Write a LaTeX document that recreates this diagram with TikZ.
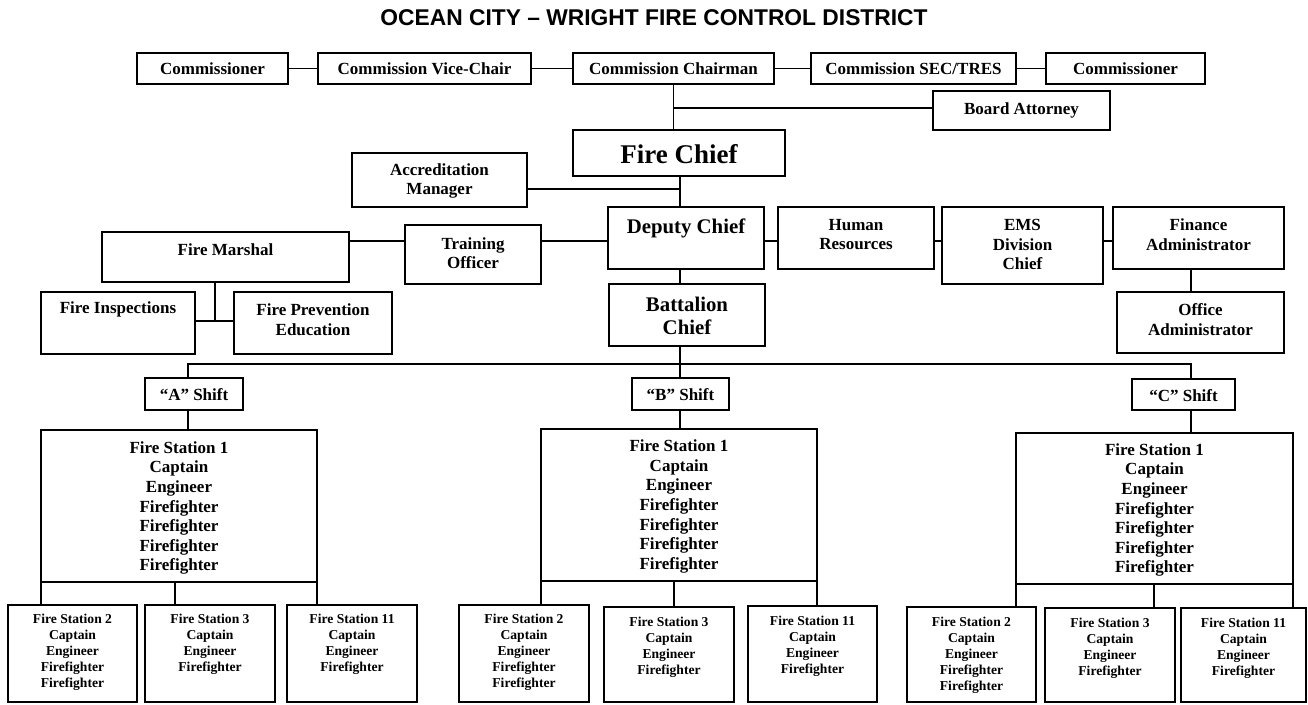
\documentclass[tikz,border=0pt]{standalone}
\usepackage{fontspec}
\setmainfont{Liberation Serif}
\newfontfamily\ttlfont{Liberation Sans}
\usetikzlibrary{fit}
\tikzset{
  bx/.style={draw, line width=1.1pt, inner sep=0pt},
  lk/.style={line width=1.1pt},
  tx/.style={inner sep=0pt, align=center, font=\bfseries\fontsize{12.75}{14.7}\selectfont},
  txbig/.style={tx, font=\bfseries\fontsize{20.25}{24}\selectfont},
  txmid/.style={tx, font=\bfseries\fontsize{15.6}{17.3}\selectfont},
  txsm/.style={tx, font=\bfseries\fontsize{10.2}{12}\selectfont},
}
\newcommand\obox[8][tx]{%
  \node[bx, fit={(#3,#4)(#5,#6)}] (#2) {};
  \node[#1] (#2-t) at ({(#3+#5)/2},#7) {#8};}
\begin{document}
\begin{tikzpicture}[x=0.75pt, y=-0.75pt]
\useasboundingbox (0,0) rectangle (1308,704);
\node[font=\ttlfont\bfseries\fontsize{17.1}{20}\selectfont, inner sep=0pt] (title) at (654,17.5) {OCEAN CITY – WRIGHT FIRE CONTROL DISTRICT};

\obox{comm1}{137}{53}{288}{84}{68.5}{Commissioner}
\obox{vice}{318}{53}{531}{84}{68.5}{Commission Vice-Chair}
\obox{chair}{573}{53}{774}{84}{68.5}{Commission Chairman}
\obox{sec}{811}{53}{1016}{84}{68.5}{Commission SEC/TRES}
\obox{comm2}{1046}{53}{1205}{84}{68.5}{Commissioner}
\obox{atty}{933}{91}{1110}{130}{110}{Board Attorney}
\obox[txbig]{chief}{573}{130}{785}{176}{154}{Fire Chief}
\obox{accr}{352}{153}{527}{207}{181}{Accreditation\\Manager}
\obox[txmid]{dep}{608}{207}{764}{269}{228}{Deputy Chief}
\obox{train}{405}{225}{541}{284}{253}{Training\\Officer}
\obox{marsh}{102}{232}{349}{282}{250}{Fire Marshal}
\obox{insp}{41}{292}{195}{354}{309}{Fire Inspections}
\obox{prev}{234}{292}{392}{354}{319.5}{Fire Prevention\\Education}
\obox{hr}{778}{207}{934}{269}{234.5}{Human\\Resources}
\obox{ems}{942}{207}{1103}{284}{244.5}{EMS\\Division\\Chief}
\obox{fin}{1113}{207}{1284}{269}{234.5}{Finance\\Administrator}
\obox{office}{1117}{292}{1284}{353}{319.5}{Office\\Administrator}
\obox[txmid]{batt}{609}{284}{765}{346}{316}{Battalion\\Chief}
\obox{ashift}{145}{378}{243}{410}{395}{“A” Shift}
\obox{bshift}{632}{378}{729}{410}{395}{“B” Shift}
\obox{cshift}{1132}{379}{1235}{410}{396}{“C” Shift}

\obox{fsa}{41}{430}{317}{582}{508}{Fire Station 1\\Captain\\Engineer\\Firefighter\\Firefighter\\Firefighter\\Firefighter}
\obox{fsb}{541}{429}{817}{581}{506.5}{Fire Station 1\\Captain\\Engineer\\Firefighter\\Firefighter\\Firefighter\\Firefighter}
\obox{fsc}{1016}{433}{1293}{584}{510}{Fire Station 1\\Captain\\Engineer\\Firefighter\\Firefighter\\Firefighter\\Firefighter}

\obox[txsm]{a2}{8}{605}{137}{702}{652.5}{Fire Station 2\\Captain\\Engineer\\Firefighter\\Firefighter}
\obox[txsm]{a3}{145}{605}{275}{702}{644.5}{Fire Station 3\\Captain\\Engineer\\Firefighter}
\obox[txsm]{a11}{287}{605}{417}{702}{644.5}{Fire Station 11\\Captain\\Engineer\\Firefighter}
\obox[txsm]{b2}{459}{605}{589}{702}{652.5}{Fire Station 2\\Captain\\Engineer\\Firefighter\\Firefighter}
\obox[txsm]{b3}{604}{607}{734}{702}{647.5}{Fire Station 3\\Captain\\Engineer\\Firefighter}
\obox[txsm]{b11}{748}{606}{877}{702}{646}{Fire Station 11\\Captain\\Engineer\\Firefighter}
\obox[txsm]{c2}{907}{607}{1036}{702}{655}{Fire Station 2\\Captain\\Engineer\\Firefighter\\Firefighter}
\obox[txsm]{c3}{1045}{608}{1175}{702}{648.5}{Fire Station 3\\Captain\\Engineer\\Firefighter}
\obox[txsm]{c11}{1181}{608}{1306}{702}{648.5}{Fire Station 11\\Captain\\Engineer\\Firefighter}

% connectors
\draw[lk] (comm1) -- (vice);
\draw[lk] (vice) -- (chair);
\draw[lk] (chair) -- (sec);
\draw[lk] (sec) -- (comm2);
\coordinate (attyy) at (0,108);
\draw[lk] (chair.south) -- (chair.south |- chief.north);
\draw[lk] (chair.south |- attyy) -- (atty.west |- attyy);
\coordinate (cx) at (680,0);
\draw[lk] (chief.south -| cx) -- (dep.north -| cx);
\coordinate (accy) at (0,189);
\draw[lk] (accr.east |- accy) -- (cx |- accy);
\coordinate (ly) at (0,241);
\draw[lk] (dep.west |- ly) -- (train.east |- ly);
\draw[lk] (train.west |- ly) -- (marsh.east |- ly);
\draw[lk] (dep.east |- ly) -- (hr.west |- ly);
\draw[lk] (hr.east |- ly) -- (ems.west |- ly);
\draw[lk] (ems.east |- ly) -- (fin.west |- ly);
\coordinate (mx) at (215,0);
\coordinate (my) at (0,321);
\draw[lk] (marsh.south -| mx) -- (mx |- my);
\draw[lk] (insp.east |- my) -- (prev.west |- my);
\coordinate (fx) at (1191,0);
\draw[lk] (fin.south -| fx) -- (office.north -| fx);
\draw[lk] (dep.south -| cx) -- (batt.north -| cx);
\coordinate (busy) at (0,364);
\draw[lk] (batt.south -| cx) -- (cx |- busy);
\coordinate (ax) at (188,0);
\draw[lk] (ashift.north -| ax) -- (ax |- busy) -- (fx |- busy) -- (cshift.north -| fx);
\draw[lk] (cx |- busy) -- (bshift.north -| cx);
\draw[lk] (ashift.south -| ax) -- (fsa.north -| ax);
\draw[lk] (bshift.south -| cx) -- (fsb.north -| cx);
\draw[lk] (cshift.south -| fx) -- (fsc.north -| fx);
% station links
\coordinate (am) at (175,0);
\coordinate (bm) at (674,0);
\coordinate (cm) at (1154,0);
\coordinate (al) at (41,0);
\coordinate (ar) at (317,0);
\coordinate (bl) at (541,0);
\coordinate (br) at (817,0);
\coordinate (cl) at (1016,0);
\coordinate (cr) at (1293,0);
\draw[lk] (fsa.south -| al) -- (a2.north -| al);
\draw[lk] (fsa.south -| am) -- (a3.north -| am);
\draw[lk] (fsa.south -| ar) -- (a11.north -| ar);
\draw[lk] (fsb.south -| bl) -- (b2.north -| bl);
\draw[lk] (fsb.south -| bm) -- (b3.north -| bm);
\draw[lk] (fsb.south -| br) -- (b11.north -| br);
\draw[lk] (fsc.south -| cl) -- (c2.north -| cl);
\draw[lk] (fsc.south -| cm) -- (c3.north -| cm);
\draw[lk] (fsc.south -| cr) -- (c11.north -| cr);
\end{tikzpicture}
\end{document}
